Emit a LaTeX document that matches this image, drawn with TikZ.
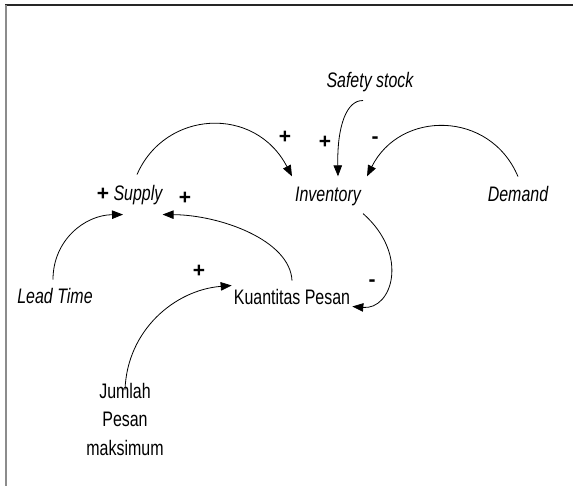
\documentclass[tikz,border=0pt]{standalone}
\usepackage{fontspec}
\usetikzlibrary{arrows.meta,calc}
\newfontfamily\narrowfont{Liberation Sans}[FakeStretch=0.76]
\newfontfamily\signfont{Liberation Sans}
\tikzset{
  lbl/.style={font=\narrowfont\fontsize{21}{28}\selectfont, inner sep=0pt, anchor=base},
  itl/.style={font=\narrowfont\itshape\fontsize{21}{28}\selectfont, inner sep=0pt, anchor=base},
  sgn/.style={font=\signfont\bfseries\fontsize{21}{24}\selectfont, inner sep=0pt},
  link/.style={line width=0.8pt, -{Triangle[length=11pt,width=8.5pt]}}
}
\begin{document}
\begin{tikzpicture}[x=1pt,y=-1pt]
\useasboundingbox (0,0) rectangle (573,486);
\fill[white] (0,0) rectangle (573,486);
% frame
\draw[line width=1.6pt, black!85] (5,5) -- (573,5);
\draw[line width=2pt, black!45] (6,5) -- (6,486);

% nodes
\node[itl] (safety) at (370,88) {Safety stock};
\node[itl] (supply) at (138,201) {Supply};
\node[itl] (inv) at (328,202) {Inventory};
\node[itl] (demand) at (518,202) {Demand};
\node[itl] (lead) at (55,304) {Lead Time};
\node[lbl] (kuant) at (292,305) {Kuantitas Pesan};
\node[font=\narrowfont\fontsize{21}{28.5}\selectfont, inner sep=0pt, anchor=north, align=center] (jumlah) at (125,383) {Jumlah\\Pesan\\maksimum};

% signs
\node[sgn] (s1) at (103,194) {+};
\node[sgn] (s2) at (185,198) {+};
\node[sgn] (s3) at (285,137) {+};
\node[sgn] (s4) at (325,142) {+};
\node[sgn] (s5) at (375,140) {-};
\node[sgn] (s6) at (199,271) {+};
\node[sgn] (s7) at (372,283) {-};

% connectors
\draw[link] ([shift={(-1,-11)}]supply.north) .. controls (165,110) and (255,105) .. ([shift={(-3,-11)}]inv.north west);
\draw[link] ([shift={(-7,8)}]safety.south) .. controls (347,100) and (337,125) .. ([shift={(10,-11)}]inv.north);
\draw[link] ([shift={(0,-10)}]demand.north) .. controls (490,110) and (400,110) .. ([shift={(6,-11)}]inv.north east);
\draw[link] ([shift={(2,7)}]inv.south east) .. controls (410,255) and (392,310) .. ([shift={(2,9)}]kuant.east);
\draw[link] ([shift={(-2,-9)}]lead.north) .. controls (53,240) and (85,215) .. ([shift={(-15,9)}]supply.south);
\draw[link] ([shift={(0,-9)}]kuant.north) .. controls (290,240) and (220,215) .. ([shift={(0,9)}]supply.south east);
\draw[link] ([shift={(0,7)}]jumlah.north) .. controls (127,330) and (175,290) .. ([shift={(-2,-12)}]kuant.west);
\end{tikzpicture}
\end{document}
